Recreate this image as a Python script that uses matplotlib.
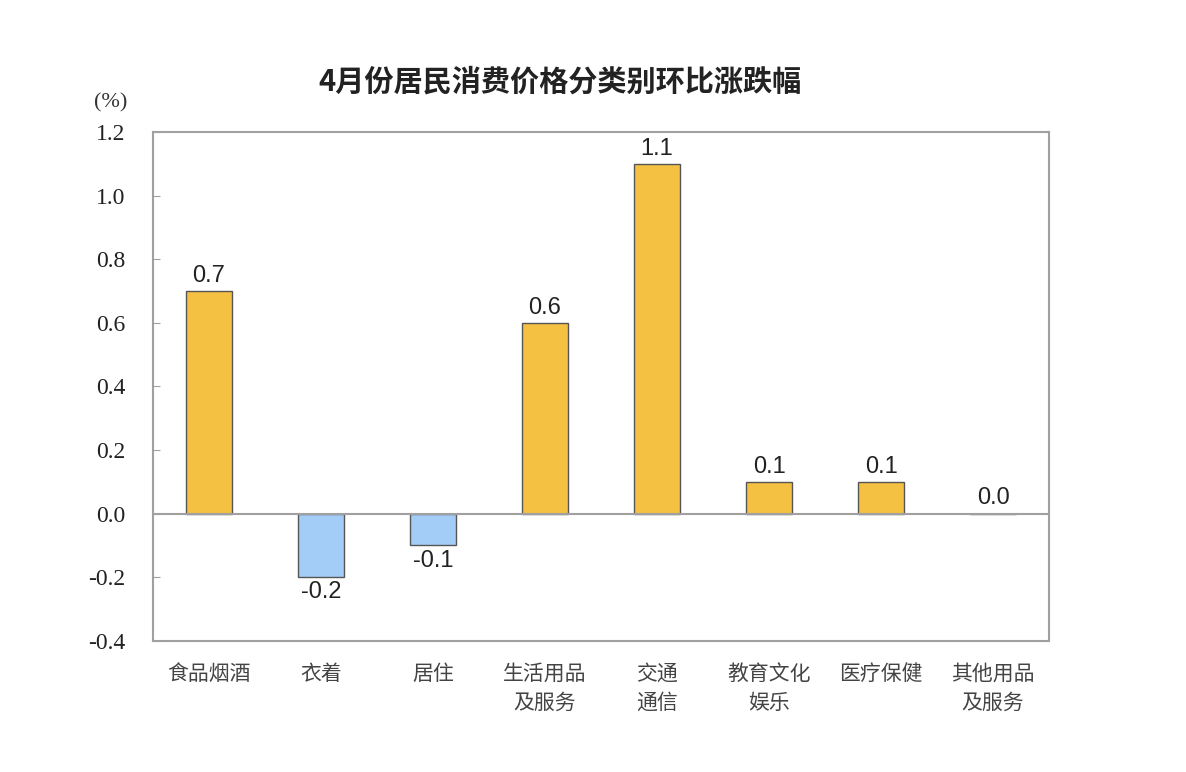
import matplotlib
matplotlib.use('Agg')
import matplotlib.pyplot as plt

plt.rcParams['font.family'] = ['Noto Sans CJK SC', 'DejaVu Sans']

# data
categories = ['食品烟酒', '衣着', '居住', '生活用品\n及服务', '交通\n通信',
              '教育文化\n娱乐', '医疗保健', '其他用品\n及服务']
values = [0.7, -0.2, -0.1, 0.6, 1.1, 0.1, 0.1, 0.0]
yticks = [-0.4, -0.2, 0.0, 0.2, 0.4, 0.6, 0.8, 1.0, 1.2]

up_color = '#F5C142'
down_color = '#A3CDF7'
edge_color = '#555555'
spine_color = '#A0A0A0'

fig = plt.figure(figsize=(11.86, 7.72), dpi=100)
ax = fig.add_axes([0.129, 0.170, 0.7555, 0.659])

x = list(range(len(categories)))
colors = [up_color if v >= 0 else down_color for v in values]
bars = ax.bar(x, values, width=0.41, color=colors, edgecolor=edge_color,
              linewidth=1.0, zorder=3)

# zero line drawn over the bar bases
ax.axhline(0, color=spine_color, linewidth=1.5, zorder=4)

for xi, v in zip(x, values):
    if v >= 0:
        ax.annotate(f'{v:.1f}', (xi, v), xytext=(0, 3), textcoords='offset points',
                    ha='center', va='bottom', fontsize=17,
                    family='Liberation Sans', color='#222222')
    else:
        ax.annotate(f'{v:.1f}', (xi, v), xytext=(0, -3), textcoords='offset points',
                    ha='center', va='top', fontsize=17,
                    family='Liberation Sans', color='#222222')

ax.set_xlim(-0.5, len(categories) - 0.5)
ax.set_ylim(-0.4, 1.2)
ax.set_yticks(yticks)
ax.set_yticklabels([f'{t:.1f}' for t in yticks], family='Liberation Serif',
                   fontsize=17, color='#222222')
ax.set_xticks(x)
ax.set_xticklabels(categories, fontsize=15, color='#444444', linespacing=1.4)
ax.tick_params(axis='x', length=0, pad=16)
ax.tick_params(axis='y', direction='in', length=5, color=spine_color, pad=20)

for sp in ax.spines.values():
    sp.set_color(spine_color)
    sp.set_linewidth(1.5)

fig.text(0.093, 0.867, '(%)', family='Liberation Serif', fontsize=16,
         color='#333333', ha='center', va='center')
fig.text(0.472, 0.895, '4月份居民消费价格分类别环比涨跌幅', fontsize=21,
         weight='bold', color='#222222', ha='center', va='center')

fig.savefig('out.png', dpi=100)
